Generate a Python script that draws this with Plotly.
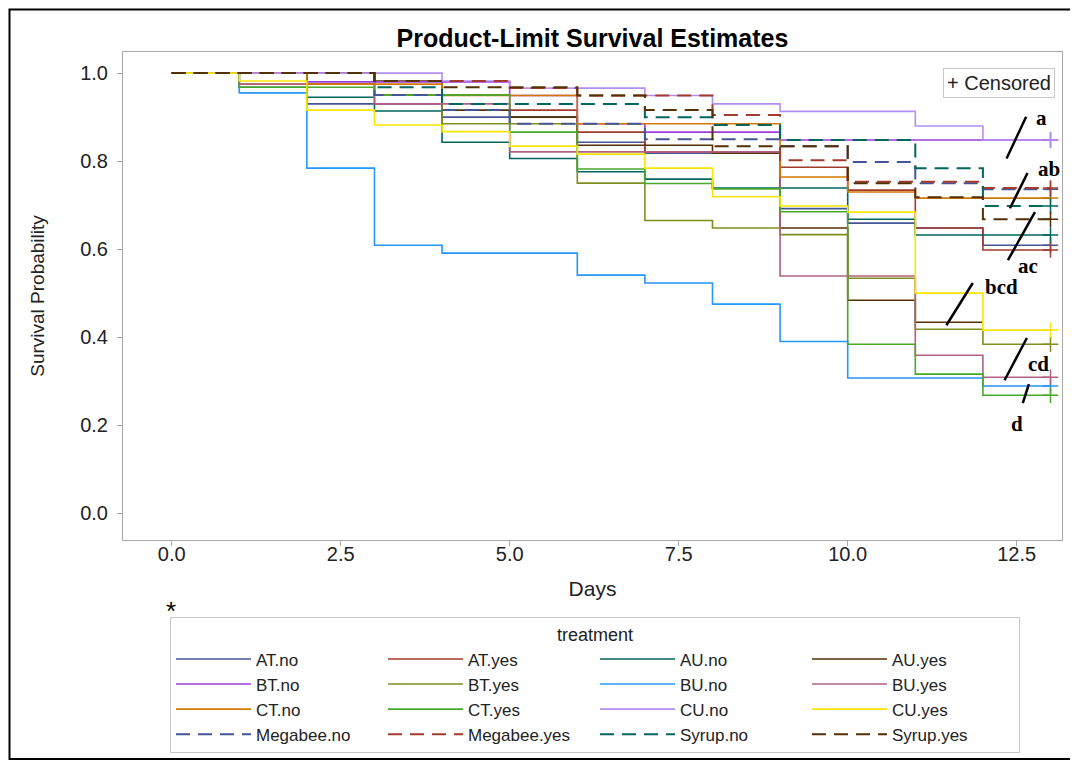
import plotly.graph_objects as go

# ---------------- data ----------------
treatments = ["AT.no", "AT.yes", "AU.no", "AU.yes",
              "BT.no", "BT.yes", "BU.no", "BU.yes",
              "CT.no", "CT.yes", "CU.no", "CU.yes",
              "Megabee.no", "Megabee.yes", "Syrup.no", "Syrup.yes"]

at_no_days = [0, 2, 4, 6, 7, 9, 10, 11, 12, 13]
at_no_surv = [1, 0.93, 0.9, 0.843, 0.818, 0.692, 0.659, 0.648, 0.609, 0.609]
at_yes_days = [0, 2, 3, 5, 6, 7, 9, 10, 11, 12, 13]
at_yes_surv = [1, 0.975, 0.95, 0.916, 0.866, 0.821, 0.786, 0.734, 0.648, 0.598, 0.598]
au_no_days = [0, 1, 2, 3, 4, 5, 6, 7, 8, 10, 11, 13]
au_no_surv = [1, 0.968, 0.945, 0.914, 0.843, 0.806, 0.776, 0.759, 0.739, 0.668, 0.632, 0.632]
au_yes_days = [0, 3, 4, 5, 6, 8, 9, 10, 11, 12]
au_yes_surv = [1, 0.982, 0.916, 0.9, 0.836, 0.818, 0.648, 0.484, 0.434, 0.434]
bt_no_days = [0, 2, 5, 6, 7, 9, 13]
bt_no_surv = [1, 0.98, 0.949, 0.885, 0.866, 0.848, 0.848]
bt_yes_days = [0, 1, 3, 4, 6, 7, 8, 9, 10, 11, 12, 13]
bt_yes_surv = [1, 0.975, 0.95, 0.885, 0.75, 0.665, 0.648, 0.633, 0.534, 0.418, 0.384, 0.384]
bu_no_days = [0, 1, 2, 3, 4, 6, 7, 8, 9, 10, 12, 13]
bu_no_surv = [1, 0.955, 0.784, 0.609, 0.591, 0.541, 0.523, 0.475, 0.39, 0.307, 0.289, 0.289]
bu_yes_days = [0, 1, 3, 5, 9, 11, 12, 13]
bu_yes_surv = [1, 0.975, 0.93, 0.821, 0.539, 0.359, 0.309, 0.309]
ct_no_days = [0, 2, 4, 6, 9, 10, 11, 13]
ct_no_surv = [1, 0.975, 0.949, 0.885, 0.764, 0.73, 0.716, 0.716]
ct_yes_days = [0, 1, 3, 5, 6, 7, 8, 9, 10, 11, 12, 13]
ct_yes_surv = [1, 0.968, 0.95, 0.866, 0.782, 0.749, 0.737, 0.685, 0.384, 0.316, 0.268, 0.268]
cu_no_days = [0, 4, 5, 7, 8, 9, 11, 12, 13]
cu_no_surv = [1, 0.982, 0.966, 0.949, 0.93, 0.913, 0.88, 0.848, 0.848]
cu_yes_days = [0, 1, 2, 3, 4, 5, 6, 7, 8, 9, 10, 11, 12, 13]
cu_yes_surv = [1, 0.982, 0.916, 0.882, 0.867, 0.834, 0.816, 0.784, 0.719, 0.698, 0.684, 0.5, 0.416, 0.416]
megabee_no_days = [0, 3, 4, 5, 7, 9, 10, 11, 12, 13]
megabee_no_surv = [1, 0.95, 0.916, 0.885, 0.85, 0.834, 0.798, 0.75, 0.736, 0.736]
megabee_yes_days = [0, 3, 5, 6, 8, 9, 10, 12, 13]
megabee_yes_surv = [1, 0.982, 0.966, 0.949, 0.905, 0.802, 0.753, 0.739, 0.739]
syrup_no_days = [0, 3, 4, 7, 8, 9, 11, 12, 13]
syrup_no_surv = [1, 0.968, 0.93, 0.9, 0.882, 0.848, 0.784, 0.698, 0.698]
syrup_yes_days = [0, 3, 4, 6, 7, 8, 10, 11, 12, 13]
syrup_yes_surv = [1, 0.982, 0.968, 0.949, 0.916, 0.834, 0.75, 0.718, 0.668, 0.668]

# censored (last observation) flags per treatment
censored_at_end = [True, True, True, False, True, True, True, True,
                   True, True, True, True, True, True, True, True]

x_ticks = [0, 2.5, 5.0, 7.5, 10.0, 12.5]
y_ticks = [0.0, 0.2, 0.4, 0.6, 0.8, 1.0]

group_labels = ["a", "ab", "ac", "bcd", "cd", "d"]

series_days = [at_no_days, at_yes_days, au_no_days, au_yes_days,
               bt_no_days, bt_yes_days, bu_no_days, bu_yes_days,
               ct_no_days, ct_yes_days, cu_no_days, cu_yes_days,
               megabee_no_days, megabee_yes_days, syrup_no_days, syrup_yes_days]
series_surv = [at_no_surv, at_yes_surv, au_no_surv, au_yes_surv,
               bt_no_surv, bt_yes_surv, bu_no_surv, bu_yes_surv,
               ct_no_surv, ct_yes_surv, cu_no_surv, cu_yes_surv,
               megabee_no_surv, megabee_yes_surv, syrup_no_surv, syrup_yes_surv]

# ---------------- style ----------------
palette = ["#445694", "#A23A2E", "#01665E", "#543005", "#9D3CDB", "#7F8E1F",
           "#2597FA", "#B26084", "#D17800", "#47A82A", "#B38EF3", "#F9E500"]
colors = palette + ["#445694", "#A23A2E", "#01665E", "#543005"]
dashes = ["solid"] * 12 + ["14px,8px"] * 4

SANS = "Liberation Sans, Arial"
SERIF = "Liberation Serif, Times New Roman"

W, H = 1070, 754          # page shows the figure offset by the 8px body margin
OFF = 8

fig = go.Figure()
for name, d, s, c, ds in zip(treatments, series_days, series_surv, colors, dashes):
    fig.add_trace(go.Scatter(
        x=d, y=s, mode="lines", name=name, line_shape="hv",
        line=dict(color=c, width=1.6 if ds == "solid" else 2, dash=ds)))

for name, d, s, c, cen in zip(treatments, series_days, series_surv, colors, censored_at_end):
    if cen:
        fig.add_trace(go.Scatter(
            x=[d[-1]], y=[s[-1]], mode="markers", showlegend=False,
            marker=dict(symbol="cross-thin", size=11, color=c,
                        line=dict(color=c, width=1.5))))

# group-label slashes and letters
slashes = [((12.35, 0.806), (12.64, 0.901)),
           ((12.40, 0.693), (12.66, 0.773)),
           ((12.37, 0.575), (12.77, 0.684)),
           ((11.46, 0.427), (11.85, 0.523)),
           ((12.32, 0.302), (12.65, 0.398)),
           ((12.59, 0.250), (12.68, 0.293))]
label_pos = [(12.86, 0.897), (12.98, 0.782), (12.66, 0.562),
             (12.28, 0.514), (12.82, 0.339), (12.51, 0.203)]

for (p0, p1) in slashes:
    fig.add_shape(type="line", xref="x", yref="y", x0=p0[0], y0=p0[1],
                  x1=p1[0], y1=p1[1], line=dict(color="black", width=2.5))
for lab, (lx, ly) in zip(group_labels, label_pos):
    fig.add_annotation(x=lx, y=ly, xref="x", yref="y", text="<b>%s</b>" % lab,
                       showarrow=False,
                       font=dict(family=SERIF, size=21, color="black"))

def px_x(p):
    return (p - 123) / 939

def px_y(p):
    return (540 - p) / 488

# "+ Censored" key
fig.add_annotation(x=px_x(1055), y=px_y(68), xref="paper", yref="paper",
                   xanchor="right", yanchor="top", text="+ Censored",
                   showarrow=False, bgcolor="white", bordercolor="#C8C8C8",
                   borderwidth=1, borderpad=3,
                   font=dict(family=SANS, size=20, color="#222"))

# star
fig.add_annotation(x=px_x(164), y=px_y(628), xref="paper", yref="paper",
                   text="*", showarrow=False,
                   font=dict(family=SANS, size=26, color="black"))

# outer frame
fig.add_shape(type="rect", xref="paper", yref="paper",
              x0=px_x(9.5), x1=px_x(1075), y0=px_y(759), y1=px_y(9.5),
              line=dict(color="black", width=2), layer="below")

axis_common = dict(showline=True, mirror=True, linecolor="#A8A8A8", linewidth=1,
                   ticks="outside", ticklen=5, tickcolor="#A8A8A8",
                   showgrid=False, zeroline=False, automargin=False,
                   tickfont=dict(size=20, color="#222"))

fig.update_layout(
    width=W, height=H,
    margin=dict(l=123 - OFF, r=W + OFF - 1062, t=52 - OFF, b=H + OFF - 540),
    paper_bgcolor="white", plot_bgcolor="white",
    font=dict(family=SANS, size=18, color="#222"),
    title=dict(text="<b>Product-Limit Survival Estimates</b>", x=0.5, xref="paper",
               xanchor="center", y=1 - (38 - OFF) / H, yref="container", yanchor="middle",
               font=dict(size=25, color="black")),
    xaxis=dict(range=[-0.72, 13.17], tickvals=x_ticks, tickformat=".1f",
               ticklabelstandoff=-9,
               title=dict(text="Days", standoff=17, font=dict(size=21, color="#222")),
               **axis_common),
    yaxis=dict(range=[-0.061, 1.048], tickvals=y_ticks, tickformat=".1f",
               ticklabelstandoff=5,
               title=dict(text="Survival Probability", standoff=30,
                          font=dict(size=19, color="#222")),
               **axis_common),
    legend=dict(orientation="h", x=px_x(595), xanchor="center",
                y=1 - (617 - OFF) / H, yref="container", yanchor="top",
                bordercolor="#C8C8C8", borderwidth=1,
                itemwidth=75, entrywidth=122, entrywidthmode="pixels",
                title=dict(text="treatment", side="top center", font=dict(size=18)),
                font=dict(size=17, color="#222"), traceorder="normal"),
)

fig.write_html("out.html")
